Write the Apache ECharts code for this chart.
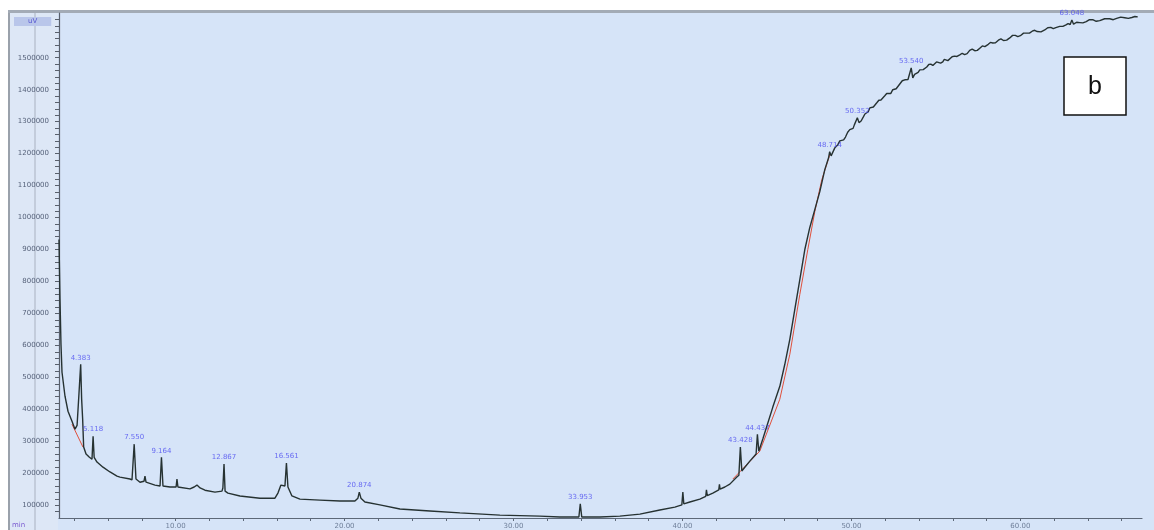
<!DOCTYPE html>
<html>
<head>
<meta charset="utf-8">
<script src="https://cdn.jsdelivr.net/npm/echarts@6/dist/echarts.min.js"></script>
<style>
  html, body { margin: 0; padding: 0; background: #ffffff; }
  #chart { width: 1154px; height: 530px; }
</style>
</head>
<body>
<div id="chart"></div>
<script>
// Retention time (min) and detector signal (in thousands of uV) of the chromatogram trace
const rtMin = [
  3.100, 3.159, 3.218, 3.278, 3.455, 3.633, 3.869, 4.047, 4.170, 4.280, 4.383, 4.440, 4.500, 4.560, 4.700, 4.900,
  5.053, 5.118, 5.180, 5.348, 5.704, 6.118, 6.532, 6.709, 7.301, 7.420, 7.550, 7.656, 7.893, 8.130, 8.189, 8.250,
  8.366, 8.780, 9.080, 9.164, 9.254, 9.668, 10.030, 10.082, 10.140, 10.852, 11.100, 11.266, 11.450, 11.739, 12.331,
  12.745, 12.800, 12.867, 12.930, 13.100, 13.810, 14.994, 15.881, 16.059, 16.236, 16.473, 16.561, 16.650, 16.887,
  17.360, 18.544, 19.727, 20.615, 20.792, 20.874, 20.970, 21.207, 22.094, 23.278, 25.053, 26.828, 29.195, 31.562,
  32.746, 33.870, 33.953, 34.040, 35.113, 36.296, 37.480, 38.663, 39.551, 39.965, 40.024, 40.083, 40.438, 41.030,
  41.380, 41.420, 41.470, 41.799, 42.150, 42.190, 42.230, 42.509, 42.805, 43.219, 43.340, 43.428, 43.515, 43.988,
  44.360, 44.437, 44.520, 44.757, 44.994, 45.349, 45.763, 46.059, 46.355, 46.651, 46.947, 47.243, 47.538, 47.834,
  48.130, 48.426, 48.650, 48.714, 48.800, 49.018, 49.110, 49.200, 49.316, 49.432, 49.540, 49.650, 49.780, 49.905,
  50.000, 50.100, 50.175, 50.250, 50.352, 50.450, 50.575, 50.700, 50.800, 50.900, 50.995, 51.089, 51.195, 51.300,
  51.400, 51.503, 51.625, 51.750, 51.860, 51.976, 52.090, 52.200, 52.325, 52.450, 52.550, 52.650, 52.760, 52.864,
  53.010, 53.160, 53.255, 53.350, 53.540, 53.633, 53.740, 53.850, 53.950, 54.047, 54.150, 54.250, 54.355, 54.461,
  54.580, 54.700, 54.820, 54.935, 55.040, 55.150, 55.280, 55.408, 55.500, 55.600, 55.710, 55.822, 55.960, 56.100,
  56.250, 56.414, 56.560, 56.700, 56.850, 57.000, 57.150, 57.302, 57.450, 57.600, 57.750, 57.900, 58.000, 58.100,
  58.230, 58.367, 58.530, 58.700, 58.850, 59.000, 59.190, 59.373, 59.540, 59.700, 59.850, 60.000, 60.190, 60.379,
  60.540, 60.700, 60.850, 61.000, 61.220, 61.444, 61.620, 61.800, 61.950, 62.100, 62.215, 62.331, 62.515, 62.700,
  62.825, 62.950, 63.048, 63.150, 63.330, 63.515, 63.700, 63.900, 64.090, 64.284, 64.490, 64.700, 64.990, 65.290,
  65.500, 65.700, 65.940, 66.177, 66.390, 66.600, 66.780, 66.947
];
const signalKuV = [
  931, 744, 603, 516, 441, 394, 363, 338, 350, 447, 541, 432, 369, 282, 260, 250,
  244, 316, 250, 235, 219, 204, 191, 188, 182, 179, 291, 182, 172, 175, 191, 172,
  169, 163, 160, 250, 160, 157, 157, 182, 157, 151, 157, 163, 154, 147, 141,
  144, 154, 229, 144, 138, 129, 122, 122, 138, 163, 160, 232, 157, 129,
  119, 116, 113, 113, 122, 141, 122, 110, 101, 88, 82, 76, 69, 66,
  63, 63, 104, 63, 63, 66, 72, 85, 94, 101, 141, 104, 110, 119,
  128, 148, 130, 138, 148, 165, 150, 157, 166, 188, 194, 282, 207, 238,
  260, 322, 269, 307, 347, 407, 472, 541, 619, 713, 806, 900, 969, 1025,
  1081, 1150, 1187, 1206, 1193, 1218, 1218, 1228, 1240, 1243, 1243, 1252, 1267, 1275,
  1273, 1279, 1290, 1294, 1312, 1297, 1302, 1314, 1324, 1327, 1331, 1343, 1349, 1346,
  1349, 1359, 1367, 1368, 1370, 1381, 1388, 1385, 1388, 1400, 1406, 1403, 1407, 1418,
  1428, 1431, 1427, 1432, 1468, 1437, 1448, 1452, 1454, 1462, 1467, 1463, 1464, 1471,
  1479, 1480, 1476, 1479, 1487, 1486, 1483, 1487, 1495, 1495, 1491, 1494, 1503, 1505,
  1504, 1509, 1514, 1510, 1513, 1523, 1527, 1522, 1523, 1530, 1537, 1535, 1535, 1542,
  1548, 1546, 1547, 1555, 1559, 1554, 1555, 1562, 1570, 1570, 1566, 1569, 1577, 1577,
  1577, 1583, 1586, 1582, 1581, 1587, 1594, 1595, 1591, 1594, 1600, 1598, 1598, 1603,
  1607, 1604, 1618, 1605, 1611, 1610, 1609, 1613, 1619, 1619, 1614, 1616, 1622, 1622,
  1619, 1623, 1627, 1625, 1623, 1626, 1629, 1628
];

// Integrated peaks: retention time label and apex signal (thousands of uV)
const peakRt = [4.383, 5.118, 7.550, 9.164, 12.867, 16.561, 20.874, 33.953, 43.428, 44.437, 48.714, 50.352, 53.540, 63.048];
const peakKuV = [541, 316, 291, 250, 229, 232, 141, 104, 282, 322, 1206, 1312, 1468, 1618];

// Integration baselines
const baseRtA = [3.869, 4.520];
const baseKuVA = [353.5, 281.7];
const baseRtB = [42.982, 44.580];
const baseKuVB = [181.8, 269.2];
const baseRtC = [44.580, 45.763, 46.355, 46.947, 47.420, 47.834, 48.248, 48.722];
const baseKuVC = [269.2, 431.6, 572.1, 759.4, 899.9, 1018.6, 1118.5, 1196.6];

// Axis tick labels
const xLabelValues = [10, 20, 30, 40, 50, 60];
const yLabelValues = [100000, 200000, 300000, 400000, 500000, 600000, 700000, 800000,
  900000, 1000000, 1100000, 1200000, 1300000, 1400000, 1500000];

const xMin = 3.1, xMax = 67.2;
const yMin = 60000, yMax = 1640000;

const xTicks = [];
for (let v = 4; v < xMax; v += 2) xTicks.push(v);
const yTicks = [];
for (let v = 80000; v < yMax; v += 20000) yTicks.push(v);

// pair times with signal converted to uV
const pair = (xs, ys) => xs.map((x, i) => [x, ys[i] * 1000]);

const chart = echarts.init(document.getElementById('chart'), null, { renderer: 'canvas' });

chart.setOption({
  animation: false,
  backgroundColor: '#d6e4f8',
  grid: { left: 59, right: 12, top: 13, bottom: 11, containLabel: false },
  xAxis: {
    type: 'value', min: xMin, max: xMax,
    axisLine: { show: true, lineStyle: { color: '#5d6878', width: 1.2 } },
    axisTick: { show: true, length: 3, customValues: xTicks, lineStyle: { color: '#5d6878' } },
    axisLabel: {
      customValues: xLabelValues, fontSize: 7, margin: 5, color: '#6f7f99',
      fontFamily: 'DejaVu Sans',
      formatter: v => v.toFixed(2)
    },
    splitLine: { show: false }
  },
  yAxis: {
    type: 'value', min: yMin, max: yMax,
    axisLine: { show: true, lineStyle: { color: '#59606c', width: 1.2 } },
    axisTick: { show: true, length: 4, customValues: yTicks, lineStyle: { color: '#59606c' } },
    axisLabel: {
      customValues: yLabelValues, fontSize: 7, margin: 10, color: '#56627a',
      fontFamily: 'DejaVu Sans',
      formatter: v => String(v)
    },
    splitLine: { show: false }
  },
  graphic: [
    { type: 'rect', z: -10, silent: true, shape: { x: 0, y: 0, width: 1154, height: 11 }, style: { fill: '#ffffff' } },
    { type: 'rect', z: -10, silent: true, shape: { x: 0, y: 0, width: 8, height: 530 }, style: { fill: '#ffffff' } },
    { type: 'rect', z: -9, silent: true, shape: { x: 10, y: 13, width: 48, height: 517 }, style: { fill: '#dde7f6' } },
    { type: 'rect', z: -8, silent: true, shape: { x: 8, y: 11, width: 2, height: 519 }, style: { fill: '#9aa1ab' } },
    { type: 'rect', z: -8, silent: true, shape: { x: 8, y: 10, width: 1146, height: 3 }, style: { fill: '#a3abb6' } },
    { type: 'rect', z: -8, silent: true, shape: { x: 34.5, y: 13, width: 1, height: 517 }, style: { fill: '#a9b2c0' } },
    { type: 'text', silent: true, left: 14, top: 17,
      style: { text: 'uV', fontSize: 7, fill: '#5656d0', fontFamily: 'DejaVu Sans',
        backgroundColor: '#b9c6ea', padding: [1, 14, 1, 14] } },
    { type: 'text', silent: true, left: 12, top: 522,
      style: { text: 'min', fontSize: 7, fill: '#7a5ad0', fontFamily: 'DejaVu Sans' } },
    { type: 'rect', z: 50, silent: true, shape: { x: 1064, y: 57, width: 62, height: 58 },
      style: { fill: '#ffffff', stroke: '#111111', lineWidth: 1.5 } },
    { type: 'text', z: 51, silent: true, x: 1095, y: 87,
      style: { text: 'b', fontSize: 25, fill: '#111111', fontFamily: 'Liberation Sans',
        align: 'center', verticalAlign: 'middle' } }
  ],
  series: [
    {
      name: 'baseline A', type: 'line', data: pair(baseRtA, baseKuVA), symbol: 'none',
      lineStyle: { color: '#e0503c', width: 1 }, z: 3, silent: true
    },
    {
      name: 'baseline B', type: 'line', data: pair(baseRtB, baseKuVB), symbol: 'none',
      lineStyle: { color: '#e0503c', width: 1 }, z: 3, silent: true
    },
    {
      name: 'baseline C', type: 'line', data: pair(baseRtC, baseKuVC), symbol: 'none',
      lineStyle: { color: '#e0503c', width: 1 }, z: 3, silent: true
    },
    {
      name: 'signal', type: 'line', data: pair(rtMin, signalKuV), symbol: 'none',
      lineStyle: { color: '#263232', width: 1.4 }, z: 4, silent: true
    },
    {
      name: 'peaks', type: 'scatter', data: pair(peakRt, peakKuV), symbolSize: 0, z: 5,
      label: {
        show: true, position: 'top', distance: 3, fontSize: 7, color: '#4b4bf0',
        fontFamily: 'DejaVu Sans',
        formatter: p => p.value[0].toFixed(3)
      },
      silent: true
    }
  ]
});
</script>
</body>
</html>
